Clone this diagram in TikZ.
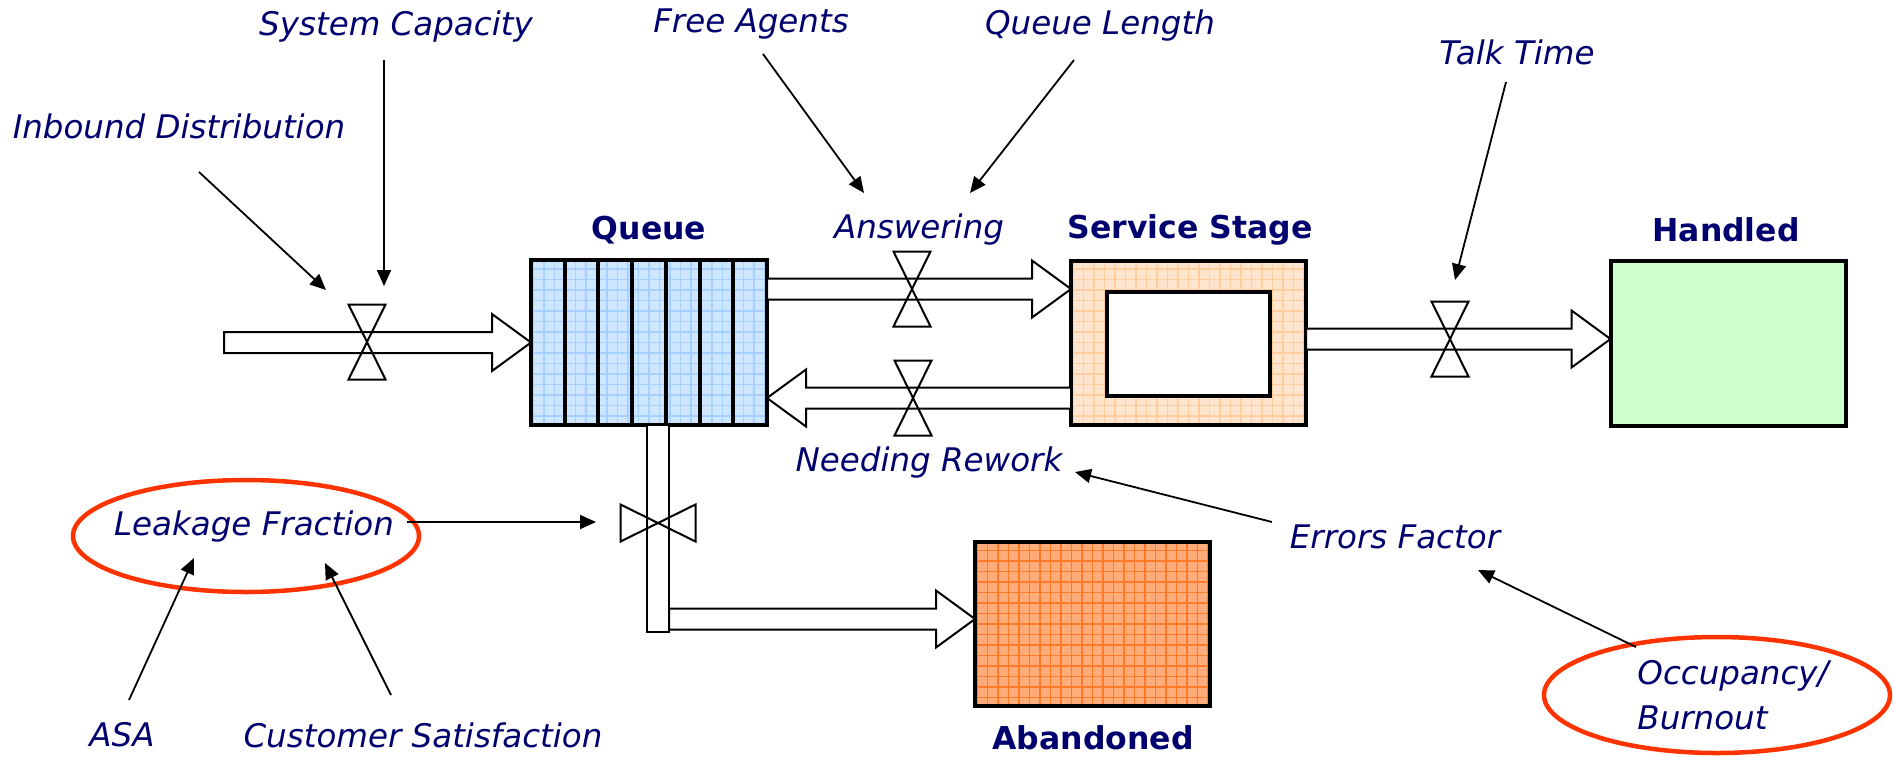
\documentclass[tikz,border=0pt]{standalone}
\usepackage{fontspec}
\setmainfont{DejaVu Sans}
\usetikzlibrary{arrows.meta,shapes.geometric,calc}

\definecolor{navy}{RGB}{0,0,110}
\definecolor{qblue}{RGB}{206,230,255}
\definecolor{qgrid}{RGB}{165,208,255}
\definecolor{sfill}{RGB}{255,229,206}
\definecolor{sgrid}{RGB}{255,205,158}
\definecolor{afill}{RGB}{255,172,122}
\definecolor{agrid}{RGB}{255,122,40}
\definecolor{hfill}{RGB}{204,255,204}
\definecolor{ringred}{RGB}{255,51,0}

% horizontal flow pipe ending in a hollow arrow head
\newcommand\pipeRight[2]{%
  \path[pipe] let \p1=(#1), \p2=(#2) in
    (\x1,{\y2+10.5pt}) -- ({\x2-39pt},{\y2+10.5pt}) -- ({\x2-39pt},{\y2+28.5pt})
    -- (\x2,\y2) -- ({\x2-39pt},{\y2-28.5pt}) -- ({\x2-39pt},{\y2-10.5pt})
    -- (\x1,{\y2-10.5pt}) -- cycle;}
\newcommand\pipeLeft[2]{%
  \path[pipe] let \p1=(#1), \p2=(#2) in
    (\x1,{\y2+10.5pt}) -- ({\x2+39pt},{\y2+10.5pt}) -- ({\x2+39pt},{\y2+28.5pt})
    -- (\x2,\y2) -- ({\x2+39pt},{\y2-28.5pt}) -- ({\x2+39pt},{\y2-10.5pt})
    -- (\x1,{\y2-10.5pt}) -- cycle;}

\begin{document}
\begin{tikzpicture}[x=1pt,y=-1pt,
  every node/.style={inner sep=0pt, outer sep=0pt},
  lbl/.style={font=\fontsize{32.5}{39}\selectfont\itshape, text=navy},
  stocklabel/.style={font=\fontsize{31.5}{38}\selectfont\bfseries, text=navy},
  stock/.style={draw=black, line width=4pt, minimum width=235pt, minimum height=164pt},
  gridfill/.style n args={2}{fill=#1, path picture={
      \draw[#2, line width=1.3pt]
        ([shift={(-20pt,-20pt)}]path picture bounding box.south west) grid[step=10.5pt]
        ([shift={(20pt,20pt)}]path picture bounding box.north east);}},
  pipe/.style={draw=black, fill=white, line width=2pt, line join=miter},
  valveframe/.style={minimum width=37pt, minimum height=75pt},
  valveframerot/.style={minimum width=75pt, minimum height=37pt},
  valve/.style={draw=black, line width=2pt, line join=miter},
  infl/.style={draw=black, line width=1.8pt, -{Triangle[length=16pt,width=14pt]}},
  ring/.style={ellipse, draw=ringred, line width=4.5pt},
]
\useasboundingbox (0,0) rectangle (1894,756);

% ---- stocks
\node[stock, gridfill={qblue}{qgrid}, minimum width=236pt, minimum height=165pt] (queue) at (649,342.5) {};
\foreach \k in {1,...,6}
  \draw[line width=4pt] ($(queue.north west)!\k/7!(queue.north east)$) -- ($(queue.south west)!\k/7!(queue.south east)$);
\node[stock, gridfill={sfill}{sgrid}] (service) at (1188.5,342.5) {};
\node[draw=black, fill=white, line width=4pt, minimum width=163pt, minimum height=104pt] (serviceinner) at (1188.5,344) {};
\node[stock, fill=hfill, minimum height=165pt] (handled) at (1728,343.5) {};
\node[stock, gridfill={afill}{agrid}] (abandoned) at (1092.5,624) {};

% ---- stock titles
\node[stocklabel] (tQueue) at (649,230) {Queue};
\node[stocklabel] (tService) at (1190,230) {Service Stage};
\node[stocklabel] (tHandled) at (1726,230) {Handled};
\node[stocklabel] (tAbandoned) at (1093,738) {Abandoned};

% ---- valve frames
\node[valveframe] (vIn) at (367,342) {};
\node[valveframe] (vAns) at (912,289) {};
\node[valveframe] (vRew) at (913,398) {};
\node[valveframe] (vOut) at (1450,339) {};
\node[valveframerot] (vLeak) at (658,523) {};

% ---- flow pipes
\coordinate (srcIn) at (224,342);
\pipeRight{srcIn}{queue.west}
\pipeRight{queue.east |- vAns}{service.west |- vAns}
\pipeLeft{service.west |- vRew}{queue.east |- vRew}
\pipeRight{service.east |- vOut}{handled.west |- vOut}
\coordinate (legTip) at ([yshift=5pt]abandoned.west);
\path[pipe] let \p1=(vLeak), \p2=(queue.south), \p3=(legTip) in
  ({\x1-11pt},\y2) rectangle ({\x1+11pt},{\y3-13pt});
\coordinate (legTail) at ([xshift=11pt]vLeak.center |- legTip);
\pipeRight{legTail}{legTip}

% ---- valves
\foreach \v in {vIn,vAns,vRew,vOut}
  \draw[valve] (\v.north west) -- (\v.north east) -- (\v.south west) -- (\v.south east) -- cycle;
\draw[valve] (vLeak.north west) -- (vLeak.south west) -- (vLeak.north east) -- (vLeak.south east) -- cycle;

% ---- highlighted variables
\node[ring, minimum width=346pt, minimum height=112pt] (ellL) at (246,536) {};
\node[ring, minimum width=346pt, minimum height=116pt] (ellO) at (1717,695) {};

% ---- variable labels
\node[lbl] (lblCap) at (396,27) {System Capacity};
\node[lbl] (lblInb) at (179,126) {Inbound Distribution};
\node[lbl] (lblFree) at (751,24) {Free Agents};
\node[lbl] (lblQL) at (1100,26) {Queue Length};
\node[lbl] (lblTalk) at (1517,52) {Talk Time};
\node[lbl] (lblAns) at (919,230) {Answering};
\node[lbl] (lblRew) at (929,463) {Needing Rework};
\node[lbl] (lblErr) at (1395,537) {Errors Factor};
\node[lbl] (lblLeak) at (254,527) {Leakage Fraction};
\node[lbl] (lblASA) at (122,735) {ASA};
\node[lbl] (lblCS) at (423,735) {Customer Satisfaction};
\node[lbl, font=\fontsize{32.5}{45}\selectfont\itshape, align=left] (lblOcc) at (1733,695) {Occupancy/\\Burnout};

% ---- influence arrows
\draw[infl] ([shift={(20,46)}]lblInb.center) -- ([shift={(-41,-52)}]vIn.center);
\draw[infl] ([shift={(-12,33)}]lblCap.center) -- ([shift={(17,-56)}]vIn.center);
\draw[infl] ([shift={(12,30)}]lblFree.center) -- ([shift={(-48,-96)}]vAns.center);
\draw[infl] ([shift={(-26,34)}]lblQL.center) -- ([shift={(58,-96)}]vAns.center);
\draw[infl] ([shift={(-11,30)}]lblTalk.center) -- ([shift={(5,-59)}]vOut.center);
\draw[infl] ([shift={(161,-14)}]ellL.center) -- ([shift={(-62,-1)}]vLeak.center);
\draw[infl] ([shift={(7,-35)}]lblASA.center) -- ([shift={(-52,22)}]ellL.center);
\draw[infl] ([shift={(-32,-40)}]lblCS.center) -- ([shift={(79,27)}]ellL.center);
\draw[infl] ([shift={(-123,-15)}]lblErr.center) -- ([shift={(146,9)}]lblRew.center);
\draw[infl] ([shift={(-81,-48)}]ellO.center) -- ([shift={(83,33)}]lblErr.center);
\end{tikzpicture}
\end{document}
